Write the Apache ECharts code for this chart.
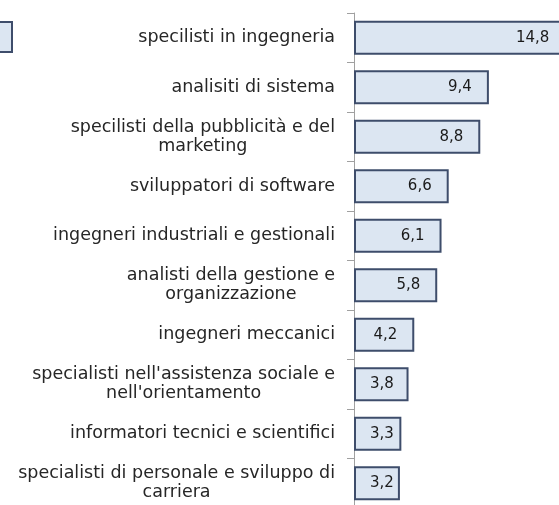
<!DOCTYPE html>
<html>
<head>
<meta charset="utf-8">
<script src="https://cdn.jsdelivr.net/npm/echarts@6/dist/echarts.min.js"></script>
<style>
  html, body { margin: 0; padding: 0; background: #fff; }
  #chart { width: 559px; height: 505px; }
</style>
</head>
<body>
<div id="chart"></div>
<script>
var categories = [
  'specilisti in ingegneria',
  'analisiti di sistema',
  'specilisti della pubblicità e del\nmarketing',
  'sviluppatori di software',
  'ingegneri industriali e gestionali',
  'analisti della gestione e\norganizzazione',
  'ingegneri meccanici',
  "specialisti nell'assistenza sociale e\nnell'orientamento",
  'informatori tecnici e scientifici',
  'specialisti di personale e sviluppo di\ncarriera'
];
var values = [14.8, 9.4, 8.8, 6.6, 6.1, 5.8, 4.2, 3.8, 3.3, 3.2];

var FONT = 'DejaVu Sans';
var xMax = 16;
var gridLeft = 354;
var gridWidth = 229.6;
var pxPerUnit = gridWidth / xMax;

// excel keeps small labels from sliding too close to the axis
var ctx = document.createElement('canvas').getContext('2d');
ctx.font = '15px "' + FONT + '"';
function fmt(v) { return v.toFixed(1).replace('.', ','); }

var barData = values.map(function (v) {
  var barLen = v * pxPerUnit;
  var tw = ctx.measureText(fmt(v)).width;
  var dist = Math.min(17, barLen - 16 - tw);
  return { value: v, label: { distance: Math.max(dist, 3) } };
});

var chart = echarts.init(document.getElementById('chart'));
var option = {
  animation: false,
  graphic: [
    {
      type: 'rect',
      shape: { x: -20, y: 22, width: 32, height: 30 },
      style: { fill: '#dce6f2', stroke: '#3e4d6b', lineWidth: 2 }
    }
  ],
  grid: { left: gridLeft, top: 13, width: gridWidth, height: 495, outerBoundsMode: 'none' },
  xAxis: {
    type: 'value',
    min: 0,
    max: xMax,
    show: false
  },
  yAxis: {
    type: 'category',
    inverse: true,
    data: categories,
    axisLine: { show: true, lineStyle: { color: '#a0a0a0', width: 1 } },
    axisTick: { show: true, length: 7, lineStyle: { color: '#a0a0a0' } },
    axisLabel: {
      margin: 19,
      align: 'right',
      formatter: function (val) {
        return val.split('\n').map(function (l) { return '{c|' + l + '}'; }).join('\n');
      },
      rich: {
        c: { align: 'center', fontFamily: FONT, fontSize: 17.5, lineHeight: 19, color: '#262626' }
      }
    }
  },
  series: [
    {
      type: 'bar',
      data: barData,
      barCategoryGap: '31%',
      clip: false,
      itemStyle: { color: '#dce6f2', borderColor: '#3e4d6b', borderWidth: 2 },
      label: {
        show: true,
        position: 'insideRight',
        fontFamily: FONT,
        fontSize: 15,
        color: '#1a1a1a',
        formatter: function (p) { return fmt(p.value); }
      }
    }
  ]
};
chart.setOption(option);
</script>
</body>
</html>
